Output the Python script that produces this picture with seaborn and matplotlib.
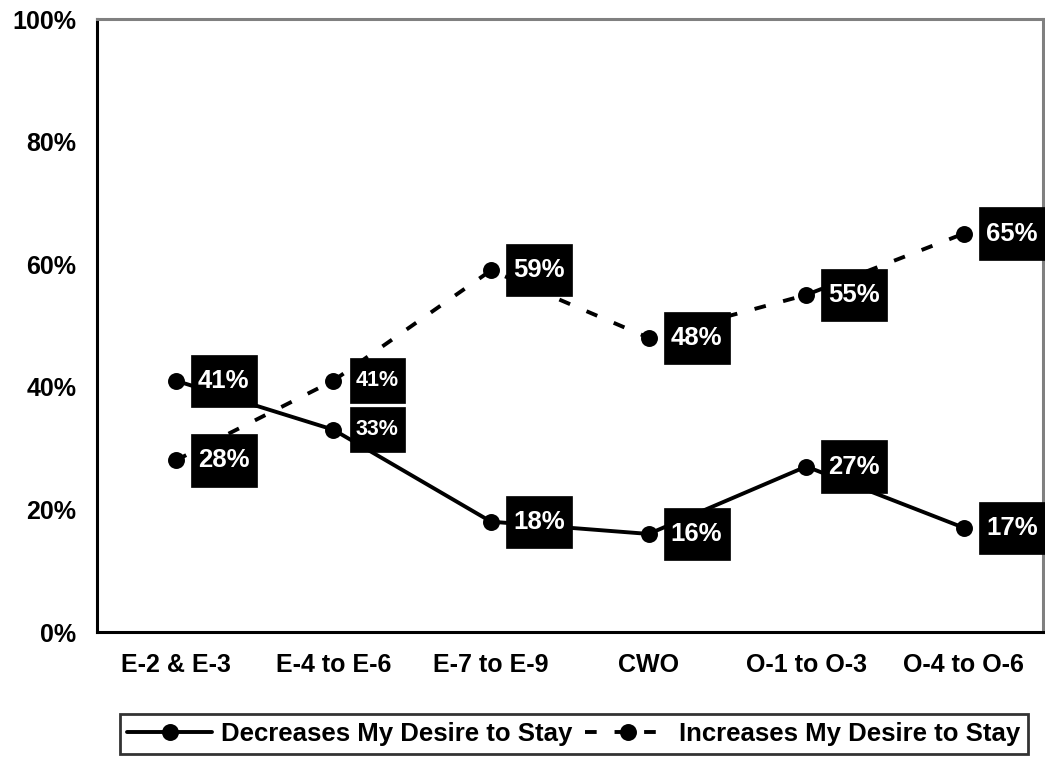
import matplotlib
matplotlib.use("Agg")
import matplotlib.pyplot as plt
from matplotlib.path import Path
from matplotlib.ticker import FixedLocator, FuncFormatter
import seaborn as sns
import pandas as pd

# Survey results by pay grade group
grades = ["E-2 & E-3", "E-4 to E-6", "E-7 to E-9", "CWO", "O-1 to O-3", "O-4 to O-6"]
decreases = [41, 33, 18, 16, 27, 17]
increases = [28, 41, 59, 48, 55, 65]
series_names = ["Decreases My Desire to Stay", "Increases My Desire to Stay"]
y_ticks = [0, 20, 40, 60, 80, 100]

sns.set_style("white")
plt.rcParams["font.family"] = ["Liberation Sans", "DejaVu Sans"]
plt.rcParams["font.weight"] = "bold"
plt.rcParams["text.color"] = "black"
plt.rcParams["xtick.color"] = "black"
plt.rcParams["ytick.color"] = "black"

df = pd.DataFrame({
    "pos": list(range(len(grades))) * 2,
    "value": decreases + increases,
    "series": [series_names[0]] * len(grades) + [series_names[1]] * len(grades),
})

fig = plt.figure(figsize=(10.45, 7.61), dpi=100)
ax = fig.add_axes([0.0928, 0.1695, 0.905, 0.8055])

sns.lineplot(
    data=df, x="pos", y="value", hue="series", style="series",
    palette=["black", "black"],
    dashes={series_names[0]: "", series_names[1]: (3.0, 4.6)},
    markers={series_names[0]: "o", series_names[1]: "o"},
    markersize=12.2, linewidth=2.8, markeredgewidth=0,
    ax=ax, legend=True, zorder=3,
)

handles, labels = ax.get_legend_handles_labels()
ax.get_legend().remove()

ax.set_xlim(-0.5, len(grades) - 0.5)
ax.set_ylim(0, 100)
ax.set_xlabel("")
ax.set_ylabel("")

# category labels centered, tick marks between categories
ax.xaxis.set_major_locator(FixedLocator(range(len(grades))))
ax.set_xticklabels(grades, fontsize=18, fontweight="bold", color="black")
ax.xaxis.set_minor_locator(FixedLocator([i - 0.5 for i in range(len(grades) + 1)]))
ax.tick_params(axis="x", which="major", length=0, pad=15)
ax.tick_params(axis="x", which="minor", length=7, width=2, color="black", direction="out")

ax.set_yticks(y_ticks)
ax.yaxis.set_major_formatter(FuncFormatter(lambda v, p: f"{int(v)}%"))
ax.tick_params(axis="y", which="major", length=7, width=2, color="black",
               direction="out", pad=8, labelsize=18, labelcolor="black")

for side in ["left", "bottom"]:
    ax.spines[side].set_color("black")
    ax.spines[side].set_linewidth(2.2)
for side in ["top", "right"]:
    ax.spines[side].set_color("#808080")
    ax.spines[side].set_linewidth(2.2)


# label box with more vertical than horizontal padding
def label_box(x0, y0, width, height, mutation_size):
    px = 0.28 * mutation_size
    py = 0.55 * mutation_size
    x0, y0 = x0 - px, y0 - py
    x1, y1 = x0 + width + 2 * px, y0 + height + 2 * py
    return Path([(x0, y0), (x1, y0), (x1, y1), (x0, y1), (x0, y0)],
                closed=True)


def put_label(x, v, size):
    ax.annotate(
        f"{v}%", xy=(x, v), xytext=(16, 0), textcoords="offset points",
        ha="left", va="center", color="white", fontsize=size, fontweight="bold",
        bbox=dict(boxstyle=label_box, facecolor="black", edgecolor="black",
                  linewidth=0.5),
        zorder=5, annotation_clip=False,
    )


for i, v in enumerate(decreases):
    put_label(i, v, 15.5 if i == 1 else 18.5)
for i, v in enumerate(increases):
    put_label(i, v, 15.5 if i == 1 else 18.5)

leg = fig.legend(
    handles, labels, loc="center", bbox_to_anchor=(574 / 1045, 1 - 734 / 761),
    ncol=2, frameon=True, fancybox=False,
    prop=dict(family="Liberation Sans", size=18.5, weight="bold"),
    handlelength=3.3, columnspacing=0.5, handletextpad=0.35, borderpad=0.3,
    borderaxespad=0,
)
leg.get_frame().set_edgecolor("black")
leg.get_frame().set_linewidth(2)

fig.savefig("out.png", dpi=100)
